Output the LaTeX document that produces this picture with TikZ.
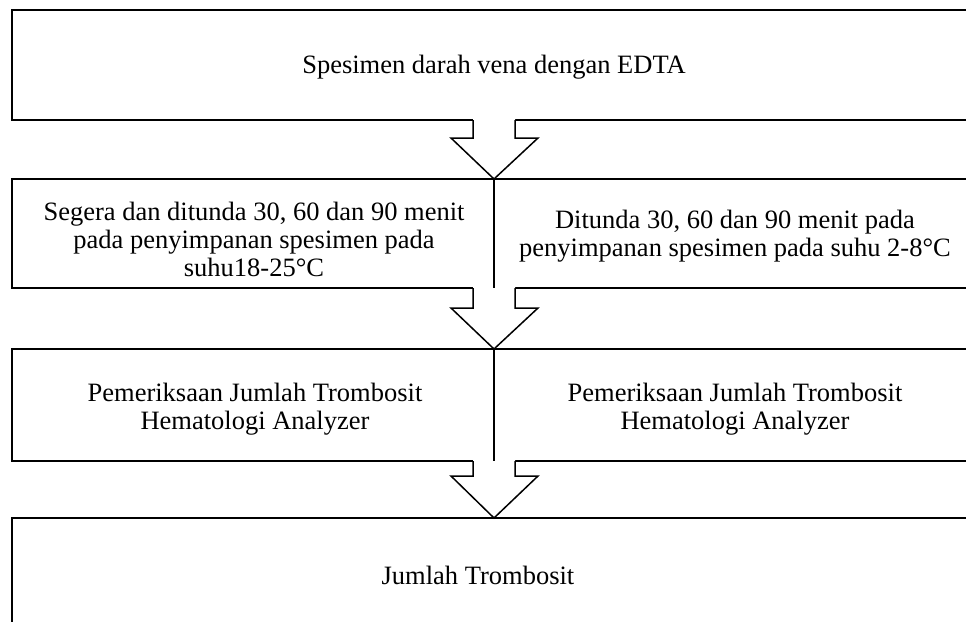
\documentclass[tikz,border=0pt]{standalone}
\usepackage{fontspec}
\setmainfont{Liberation Serif}
\tikzset{
  boxline/.style={draw=black, line width=#1},
  boxline/.default=2pt,
  arrowline/.style={draw=black, line width=1.5pt, line join=miter},
  divline/.style={draw=black, line width=1.5pt},
  txt/.style={align=center, inner sep=0pt, font=\fontsize{26.5}{28}\selectfont}
}
\newcommand{\flowarrow}[3]{%
  \fill[white] (473,#1-2) -- (473,#2) -- (451,#2) -- (494,#3) -- (538,#2) -- (515,#2) -- (515,#1-2) -- cycle;
  \draw[arrowline] (473,#1) -- (473,#2) -- (451,#2) -- (494,#3) -- (538,#2) -- (515,#2) -- (515,#1);
}
\begin{document}
\begin{tikzpicture}[x=1pt,y=-1pt]
\useasboundingbox (0,0) rectangle (966,621);
% boxes
\draw[boxline=2.5pt] (12,10) rectangle (1000,120);
\draw[boxline=2.5pt] (12,179) rectangle (1000,288);
\draw[boxline=2pt] (12,349) rectangle (1000,461);
\draw[boxline=2pt] (12,518) rectangle (1000,660);
% arrows
\flowarrow{120}{138}{179}
\flowarrow{288}{308}{349}
\flowarrow{461}{476}{518}
% dividers
\draw[divline] (494,179) -- (494,288);
\draw[divline] (494,349) -- (494,461);
% texts
\node[txt] (t1) at (494,67) {Spesimen darah vena dengan EDTA};
\node[txt] (t2l) at (254,239) {Segera dan ditunda 30, 60 dan 90 menit\\pada penyimpanan spesimen pada\\suhu18-25°C};
\node[txt] (t2r) at (735,236) {Ditunda 30, 60 dan 90 menit pada\\penyimpanan spesimen pada suhu 2-8°C};
\node[txt] (t3l) at (255,409) {Pemeriksaan Jumlah Trombosit\\Hematologi Analyzer};
\node[txt] (t3r) at (735,409) {Pemeriksaan Jumlah Trombosit\\Hematologi Analyzer};
\node[txt] (t4) at (478,575) {Jumlah Trombosit};
\end{tikzpicture}
\end{document}
